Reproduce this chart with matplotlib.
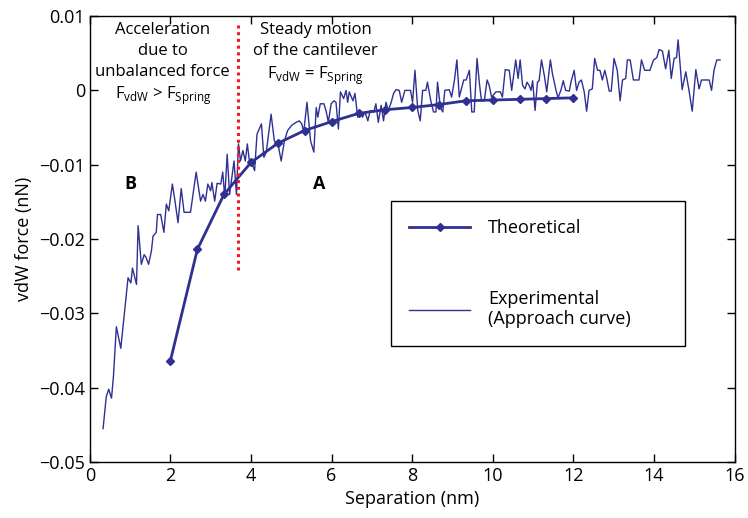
import matplotlib
matplotlib.use("Agg")
import matplotlib.pyplot as plt

plt.rcParams['font.family'] = ['Open Sans', 'DejaVu Sans']
plt.rcParams['mathtext.fontset'] = 'custom'
plt.rcParams['mathtext.rm'] = 'Open Sans'

# theoretical vdW force (nN) vs separation (nm)
sep_theory = [2.0, 2.67, 3.33, 4.0, 4.67, 5.33, 6.0, 6.67, 7.33, 8.0,
              8.67, 9.33, 10.0, 10.67, 11.33, 12.0]
force_theory = [-0.0364, -0.0214, -0.0140, -0.0097, -0.0071, -0.0054, -0.0042, -0.0031,
                -0.0026, -0.0023, -0.0019, -0.0014, -0.0013, -0.0012, -0.0011, -0.0010]

# experimental approach curve
sep_exp = [0.33, 0.41, 0.47, 0.54, 0.59, 0.66, 0.77, 0.95, 1.02, 1.06,
           1.16, 1.20, 1.28, 1.35, 1.40, 1.46, 1.53, 1.57, 1.65, 1.68,
           1.76, 1.84, 1.90, 1.96, 2.05, 2.11, 2.19, 2.27, 2.34, 2.50,
           2.64, 2.75, 2.81, 2.87, 2.93, 3.00, 3.03, 3.10, 3.16, 3.25,
           3.30, 3.35, 3.41, 3.47, 3.53, 3.58, 3.64, 3.69, 3.74, 3.80,
           3.86, 3.91, 3.97, 4.02, 4.09, 4.15, 4.26, 4.32, 4.38, 4.50,
           4.58, 4.67, 4.75, 4.83, 4.91, 5.01, 5.12, 5.20, 5.26, 5.31,
           5.39, 5.48, 5.56, 5.62, 5.66, 5.72, 5.81, 5.87, 5.92, 5.99,
           6.06, 6.11, 6.17, 6.22, 6.30, 6.36, 6.40, 6.44, 6.53, 6.58,
           6.65, 6.72, 6.77, 6.83, 6.90, 6.96, 7.05, 7.10, 7.16, 7.23,
           7.29, 7.35, 7.41, 7.48, 7.54, 7.60, 7.68, 7.74, 7.82, 7.96,
           8.01, 8.07, 8.14, 8.20, 8.26, 8.34, 8.38, 8.47, 8.53, 8.59,
           8.63, 8.70, 8.76, 8.81, 8.92, 8.98, 9.05, 9.11, 9.17, 9.28,
           9.34, 9.42, 9.48, 9.54, 9.61, 9.67, 9.72, 9.79, 9.86, 9.91,
           9.97, 10.08, 10.19, 10.24, 10.31, 10.41, 10.47, 10.57, 10.63, 10.68,
           10.74, 10.80, 10.85, 10.90, 10.95, 10.99, 11.05, 11.11, 11.15, 11.21,
           11.28, 11.34, 11.43, 11.48, 11.57, 11.62, 11.69, 11.75, 11.81, 11.90,
           11.94, 12.02, 12.08, 12.14, 12.20, 12.27, 12.33, 12.39, 12.47, 12.53,
           12.60, 12.66, 12.72, 12.78, 12.83, 12.89, 12.94, 13.01, 13.09, 13.16,
           13.22, 13.30, 13.34, 13.41, 13.49, 13.63, 13.69, 13.77, 13.90, 13.99,
           14.07, 14.13, 14.21, 14.29, 14.37, 14.43, 14.50, 14.56, 14.60, 14.66,
           14.70, 14.79, 14.87, 14.95, 15.04, 15.12, 15.18, 15.37, 15.43, 15.49,
           15.56, 15.64]
force_exp = [-0.0455, -0.0412, -0.0402, -0.0414, -0.0383, -0.0318, -0.0347, -0.0252, -0.0259, -0.0239,
             -0.0261, -0.0182, -0.0234, -0.0221, -0.0225, -0.0234, -0.0216, -0.0196, -0.0191, -0.0167,
             -0.0167, -0.0191, -0.0153, -0.0162, -0.0126, -0.0147, -0.0178, -0.0132, -0.0164, -0.0164,
             -0.0110, -0.0149, -0.0140, -0.0149, -0.0126, -0.0135, -0.0124, -0.0149, -0.0125, -0.0126,
             -0.0110, -0.0144, -0.0086, -0.0140, -0.0115, -0.0095, -0.0140, -0.0072, -0.0095, -0.0081,
             -0.0095, -0.0072, -0.0099, -0.0097, -0.0108, -0.0059, -0.0045, -0.0090, -0.0083, -0.0032,
             -0.0068, -0.0072, -0.0095, -0.0068, -0.0054, -0.0047, -0.0043, -0.0041, -0.0045, -0.0056,
             -0.0016, -0.0068, -0.0083, -0.0023, -0.0036, -0.0018, -0.0018, -0.0029, -0.0043, -0.0018,
             -0.0014, -0.0016, -0.0052, -0.0002, -0.0011, 0.0000, -0.0016, -0.0002, -0.0014, -0.0004,
             -0.0036, -0.0029, -0.0036, -0.0029, -0.0041, -0.0027, -0.0029, -0.0018, -0.0043, -0.0020,
             -0.0041, -0.0016, -0.0027, -0.0016, -0.0004, 0.0001, 0.0000, -0.0016, 0.0000, 0.0000,
             -0.0016, 0.0027, -0.0027, -0.0041, 0.0000, 0.0000, 0.0011, -0.0016, -0.0029, -0.0029,
             0.0011, -0.0023, -0.0029, 0.0000, 0.0001, -0.0009, 0.0014, 0.0041, -0.0009, 0.0014,
             0.0014, 0.0027, -0.0029, -0.0029, 0.0043, 0.0009, -0.0014, -0.0014, 0.0014, 0.0007,
             -0.0009, -0.0002, -0.0002, -0.0009, 0.0028, 0.0027, 0.0000, 0.0041, 0.0016, 0.0041,
             0.0007, 0.0002, 0.0011, 0.0007, 0.0000, 0.0013, -0.0027, 0.0011, 0.0013, 0.0041,
             0.0020, -0.0002, 0.0041, 0.0023, 0.0000, -0.0010, 0.0000, 0.0013, 0.0000, -0.0001,
             0.0011, 0.0027, 0.0000, 0.0011, 0.0014, -0.0002, -0.0028, 0.0000, 0.0002, 0.0043,
             0.0027, 0.0027, 0.0014, 0.0027, 0.0016, -0.0001, -0.0001, 0.0043, 0.0027, -0.0014,
             0.0014, 0.0016, 0.0041, 0.0041, 0.0014, 0.0014, 0.0041, 0.0027, 0.0027, 0.0041,
             0.0044, 0.0055, 0.0053, 0.0029, 0.0054, 0.0016, 0.0043, 0.0044, 0.0068, 0.0027,
             0.0001, 0.0025, 0.0000, -0.0028, 0.0028, 0.0002, 0.0014, 0.0014, 0.0000, 0.0027,
             0.0041, 0.0041]

x_ticks = [0, 2, 4, 6, 8, 10, 12, 14, 16]
y_ticks = [-0.05, -0.04, -0.03, -0.02, -0.01, 0, 0.01]
y_labels = ['\u22120.05', '\u22120.04', '\u22120.03', '\u22120.02', '\u22120.01', '0', '0.01']

blue = '#2e3192'

fig, ax = plt.subplots(figsize=(7.48, 5.18), dpi=100)
fig.subplots_adjust(left=0.120, right=0.982, top=0.969, bottom=0.108)

ax.plot(sep_theory, force_theory, color=blue, linewidth=2.0, marker='D',
        markersize=4, label='Theoretical')
ax.plot(sep_exp, force_exp, color=blue, linewidth=1.0,
        label='Experimental\n(Approach curve)')

# boundary between the two regimes
ax.plot([3.68, 3.68], [-0.0242, 0.0092], color='#ee1c25', linestyle=(0, (1, 1.2)),
        linewidth=2.2)

ax.text(1.81, 0.0092, 'Acceleration\ndue to\nunbalanced force\n'
        r'F$_{\rm vdW}$ > F$_{\rm Spring}$',
        ha='center', va='top', fontsize=12, linespacing=1.4)
ax.text(5.6, 0.0092, 'Steady motion\nof the cantilever\n'
        r'F$_{\rm vdW}$ = F$_{\rm Spring}$',
        ha='center', va='top', fontsize=12, linespacing=1.4)
ax.text(1.0, -0.0126, 'B', ha='center', va='center', fontsize=13, fontweight='bold')
ax.text(5.7, -0.0126, 'A', ha='center', va='center', fontsize=13, fontweight='bold')

ax.set_xlim(0, 16)
ax.set_ylim(-0.05, 0.01)
ax.set_xticks(x_ticks)
ax.set_yticks(y_ticks)
ax.set_yticklabels(y_labels)
ax.tick_params(direction='in', top=True, right=True, labelsize=13, length=6, width=1)
for s in ax.spines.values():
    s.set_linewidth(1.0)
ax.set_xlabel('Separation (nm)', fontsize=13)
ax.set_ylabel('vdW force (nN)', fontsize=13)

leg = ax.legend(loc='upper left', bbox_to_anchor=(0.467, 0.585, 0.456, 0.0), mode='expand',
                borderaxespad=0, fontsize=13, fancybox=False, edgecolor='black', framealpha=1,
                handlelength=3.4, labelspacing=2.9, borderpad=1.0, handletextpad=1.0)
leg.get_frame().set_linewidth(1.0)

fig.savefig('out.png', dpi=100)
